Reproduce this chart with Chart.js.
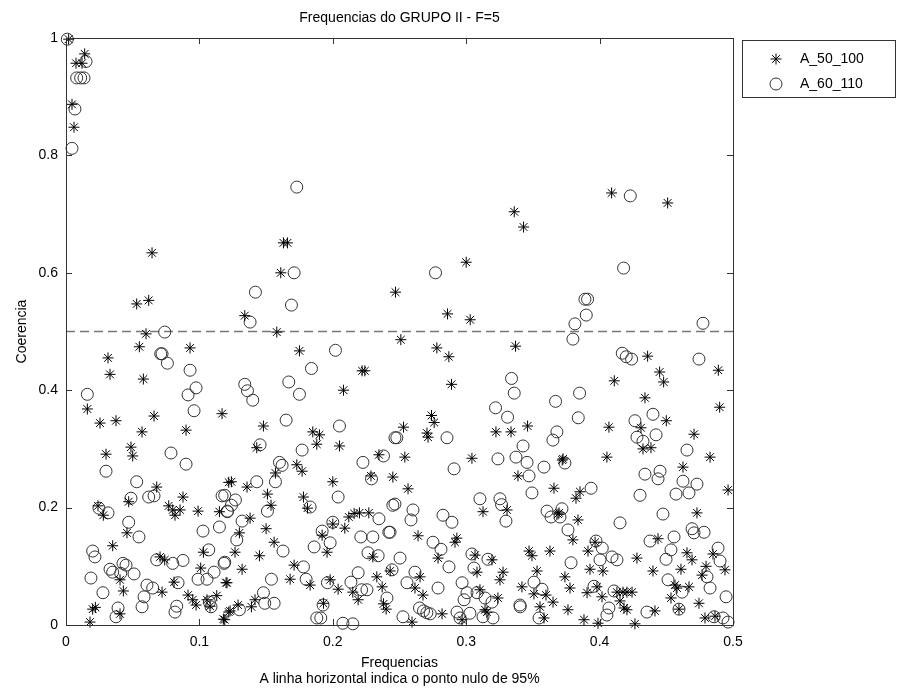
<!DOCTYPE html>
<html>
<head>
<meta charset="utf-8">
<script src="https://cdn.jsdelivr.net/npm/chart.js@4.4.0/dist/chart.umd.min.js"></script>
<style>
  body { margin: 0; background: #fff; }
  canvas { display: block; }
</style>
</head>
<body>
<canvas id="coer_chart" width="900" height="696"></canvas>
<script>
// Series A_50_100 (frequency, coherence)
const freqA50 = [
  0.002, 0.014, 0.0075, 0.012, 0.0045, 0.006,
  0.0645, 0.053, 0.062, 0.06, 0.055, 0.093, 0.0315, 0.033, 0.058, 0.016, 0.117, 0.0255, 0.0375, 0.066,
  0.163, 0.166, 0.161, 0.134, 0.158, 0.175, 0.222, 0.224, 0.208, 0.148, 0.247,
  0.336, 0.343, 0.409, 0.451,
  0.3, 0.286, 0.303, 0.251, 0.278, 0.287, 0.337, 0.289, 0.274, 0.276, 0.253, 0.346,
  0.436, 0.489, 0.445, 0.448, 0.411, 0.434, 0.49, 0.45, 0.407, 0.431,
  0.057, 0.09, 0.03, 0.0487, 0.05, 0.068, 0.0877, 0.047, 0.024, 0.028, 0.077, 0.08, 0.0817, 0.0855, 0.099,
  0.115, 0.122, 0.0457, 0.035, 0.0705, 0.074, 0.103, 0.101, 0.0405, 0.043, 0.081, 0.12, 0.072, 0.0915,
  0.095, 0.0975, 0.1057, 0.113, 0.108, 0.123, 0.02, 0.022, 0.0405, 0.018, 0.118,
  0.185, 0.19, 0.188, 0.205, 0.143, 0.173, 0.177, 0.157, 0.2346, 0.2286, 0.245, 0.124, 0.1357, 0.2,
  0.151, 0.178, 0.1537, 0.181, 0.138, 0.13, 0.15, 0.156, 0.1267, 0.145, 0.132, 0.2, 0.192, 0.209,
  0.212, 0.216, 0.22, 0.227, 0.1957, 0.23, 0.243, 0.171, 0.168, 0.183, 0.198, 0.204, 0.215, 0.219,
  0.233, 0.237, 0.1207, 0.1417, 0.139, 0.129, 0.122, 0.193, 0.238, 0.24, 0.119,
  0.2706, 0.2714, 0.3223, 0.3336, 0.254, 0.3043, 0.3388, 0.2564, 0.3658, 0.372, 0.3126, 0.3306, 0.3688,
  0.2639, 0.293, 0.2916, 0.2789, 0.3066, 0.3193, 0.3081, 0.3276, 0.3253, 0.2654, 0.2616, 0.2676, 0.3103,
  0.3238, 0.3471, 0.3493, 0.3628, 0.3531, 0.3418, 0.3508, 0.3598, 0.3651, 0.3553, 0.3141, 0.3155,
  0.2819, 0.2594, 0.2969, 0.3583,
  0.4708, 0.4828, 0.4325, 0.4385, 0.4055, 0.3726, 0.4625, 0.3853, 0.3823, 0.4963, 0.3696, 0.473, 0.3838,
  0.38, 0.3966, 0.3913, 0.4438, 0.4655, 0.4693, 0.485, 0.428, 0.3928, 0.4025, 0.44, 0.461, 0.4798, 0.494,
  0.4768, 0.374, 0.3778, 0.398, 0.3906, 0.4018, 0.413, 0.4175, 0.4205, 0.4243, 0.4153, 0.4565, 0.458,
  0.467, 0.4535, 0.4183, 0.4205, 0.4415, 0.4595, 0.4745, 0.3763, 0.3883, 0.3988, 0.4265, 0.479, 0.4865
];
const cohA50 = [
  0.998, 0.973, 0.957, 0.957, 0.887, 0.848,
  0.634, 0.547, 0.553, 0.496, 0.474, 0.472, 0.455, 0.427, 0.419, 0.368, 0.36, 0.344, 0.348, 0.356,
  0.651, 0.651, 0.6, 0.527, 0.499, 0.467, 0.433, 0.433, 0.4, 0.339, 0.567,
  0.704, 0.678, 0.736, 0.719,
  0.618, 0.53, 0.52, 0.486, 0.472, 0.457, 0.475, 0.41, 0.357, 0.345, 0.337, 0.339,
  0.458, 0.434, 0.431, 0.414, 0.416, 0.387, 0.371, 0.348, 0.337, 0.336,
  0.329, 0.332, 0.291, 0.303, 0.288, 0.235, 0.218, 0.21, 0.203, 0.187, 0.203, 0.196, 0.187, 0.196, 0.194,
  0.193, 0.243, 0.157, 0.135, 0.116, 0.111, 0.124, 0.097, 0.077, 0.058, 0.073, 0.072, 0.056, 0.051,
  0.043, 0.034, 0.043, 0.05, 0.032, 0.024, 0.027, 0.03, 0.019, 0.005, 0.01,
  0.329, 0.324, 0.308, 0.305, 0.302, 0.273, 0.262, 0.259, 0.29, 0.254, 0.252, 0.244, 0.235, 0.244,
  0.223, 0.218, 0.204, 0.199, 0.182, 0.157, 0.164, 0.141, 0.124, 0.118, 0.095, 0.172, 0.153, 0.165,
  0.184, 0.19, 0.191, 0.191, 0.124, 0.116, 0.092, 0.102, 0.078, 0.068, 0.077, 0.061, 0.056, 0.043,
  0.082, 0.065, 0.072, 0.043, 0.031, 0.034, 0.022, 0.037, 0.036, 0.027, 0.009,
  0.327, 0.32, 0.329, 0.329, 0.286, 0.284, 0.254, 0.232, 0.233, 0.281, 0.193, 0.196, 0.189,
  0.152, 0.148, 0.141, 0.114, 0.119, 0.111, 0.09, 0.09, 0.077, 0.082, 0.063, 0.051, 0.06,
  0.046, 0.126, 0.118, 0.126, 0.092, 0.065, 0.053, 0.051, 0.039, 0.031, 0.026, 0.022,
  0.019, 0.005, 0.009, 0.012,
  0.325, 0.286, 0.3, 0.302, 0.286, 0.283, 0.269, 0.227, 0.216, 0.23, 0.191, 0.191, 0.179,
  0.145, 0.141, 0.126, 0.147, 0.123, 0.111, 0.121, 0.114, 0.095, 0.092, 0.092, 0.095, 0.1, 0.094,
  0.085, 0.082, 0.063, 0.065, 0.055, 0.048, 0.056, 0.056, 0.056, 0.056, 0.041, 0.068, 0.063,
  0.065, 0.046, 0.029, 0.026, 0.024, 0.027, 0.037, 0.026, 0.009, 0.003, 0.002, 0.012, 0.015
];

// Series A_60_110 (frequency, coherence)
const freqA60 = [
  0.001, 0.015, 0.008, 0.011, 0.0135, 0.0067, 0.0045,
  0.173, 0.423,
  0.074, 0.071, 0.072, 0.076, 0.093, 0.0915, 0.0975, 0.016, 0.096,
  0.171, 0.142, 0.169, 0.138, 0.202, 0.184, 0.167, 0.175, 0.134, 0.136, 0.14, 0.165, 0.205,
  0.277, 0.334, 0.336, 0.367, 0.322, 0.331,
  0.418, 0.389, 0.391, 0.39, 0.3815, 0.38, 0.4775, 0.417, 0.42, 0.424, 0.4745, 0.385, 0.44, 0.4265, 0.384,
  0.0787, 0.09, 0.03, 0.053, 0.0487, 0.062, 0.066, 0.117, 0.0247, 0.0315, 0.121, 0.047, 0.1027, 0.115,
  0.0547, 0.02, 0.0217, 0.068, 0.08, 0.0877, 0.107, 0.0427, 0.045, 0.033, 0.035, 0.041, 0.051, 0.0187,
  0.0607, 0.065, 0.084, 0.099, 0.1057, 0.111, 0.1185, 0.0277, 0.0585, 0.057, 0.083, 0.0817, 0.039,
  0.0375, 0.1087, 0.1075,
  0.2466, 0.1455, 0.177, 0.16, 0.162, 0.2226, 0.238, 0.229, 0.143, 0.157, 0.204, 0.245, 0.119, 0.127,
  0.124, 0.121, 0.183, 0.151, 0.132, 0.2, 0.2346, 0.192, 0.128, 0.221, 0.23, 0.242, 0.198, 0.186,
  0.1627, 0.2264, 0.234, 0.119, 0.178, 0.219, 0.154, 0.18, 0.196, 0.2136, 0.2256, 0.2216, 0.148,
  0.149, 0.156, 0.13, 0.2406, 0.1927, 0.188, 0.191, 0.2076, 0.215,
  0.248, 0.2856, 0.368, 0.365, 0.3426, 0.3238, 0.3373, 0.3456, 0.3583, 0.2909, 0.3471, 0.3493, 0.2466,
  0.3103, 0.3253, 0.3265, 0.3298, 0.2601, 0.2586, 0.2826, 0.2893, 0.3606, 0.3636, 0.2429, 0.2751,
  0.2811, 0.2504, 0.2444, 0.2871, 0.3043, 0.3058, 0.3163, 0.2616, 0.2556, 0.2789, 0.2969, 0.3006,
  0.2984, 0.3081, 0.3141, 0.3193, 0.265, 0.268, 0.2705, 0.273, 0.2526, 0.2931, 0.2954, 0.3028, 0.3126,
  0.3201, 0.3403, 0.3405, 0.3508, 0.3568, 0.3546,
  0.428, 0.4325, 0.4423, 0.4655, 0.374, 0.434, 0.4453, 0.4438, 0.4625, 0.473, 0.3936, 0.4303, 0.4573,
  0.467, 0.3718, 0.3703, 0.4475, 0.4153, 0.3763, 0.4693, 0.4708, 0.4783, 0.4558, 0.4378, 0.3973, 0.402,
  0.4535, 0.4888, 0.4093, 0.413, 0.4003, 0.4498, 0.4903, 0.3786, 0.4805, 0.4513, 0.4618, 0.4828, 0.3958,
  0.4108, 0.4948, 0.407, 0.4055, 0.4355, 0.4595, 0.4858, 0.4925, 0.4963
];
const cohA60 = [
  0.998, 0.96, 0.932, 0.932, 0.932, 0.879, 0.812,
  0.746, 0.731,
  0.499, 0.462, 0.462, 0.446, 0.434, 0.392, 0.404, 0.393, 0.365,
  0.6, 0.567, 0.545, 0.516, 0.468, 0.437, 0.414, 0.393, 0.41, 0.399, 0.383, 0.349, 0.339,
  0.6, 0.42, 0.395, 0.381, 0.37, 0.354,
  0.608, 0.555, 0.555, 0.528, 0.513, 0.487, 0.514, 0.463, 0.457, 0.453, 0.453, 0.395, 0.359, 0.348, 0.353,
  0.293, 0.274, 0.262, 0.244, 0.216, 0.218, 0.22, 0.22, 0.199, 0.191, 0.194, 0.175, 0.16, 0.167,
  0.15, 0.126, 0.116, 0.111, 0.105, 0.11, 0.128, 0.105, 0.102, 0.095, 0.09, 0.088, 0.087, 0.08,
  0.068, 0.063, 0.072, 0.078, 0.078, 0.09, 0.105, 0.055, 0.048, 0.031, 0.032, 0.022, 0.029,
  0.014, 0.031, 0.039,
  0.319, 0.307, 0.298, 0.277, 0.272, 0.277, 0.288, 0.249, 0.244, 0.244, 0.218, 0.204, 0.221, 0.213,
  0.204, 0.193, 0.201, 0.194, 0.177, 0.175, 0.181, 0.16, 0.145, 0.15, 0.15, 0.158, 0.14, 0.133,
  0.126, 0.123, 0.118, 0.107, 0.099, 0.089, 0.078, 0.078, 0.072, 0.073, 0.06, 0.06, 0.055,
  0.037, 0.037, 0.026, 0.046, 0.034, 0.012, 0.012, 0.003, 0.002,
  0.319, 0.319, 0.329, 0.315, 0.305, 0.283, 0.286, 0.277, 0.269, 0.266, 0.254, 0.225, 0.206,
  0.215, 0.215, 0.205, 0.177, 0.196, 0.179, 0.187, 0.175, 0.194, 0.184, 0.158, 0.141,
  0.129, 0.114, 0.094, 0.099, 0.121, 0.097, 0.112, 0.09, 0.072, 0.063, 0.072, 0.055,
  0.043, 0.055, 0.046, 0.039, 0.029, 0.024, 0.021, 0.019, 0.014, 0.022, 0.012, 0.02, 0.014,
  0.012, 0.034, 0.031, 0.073, 0.061, 0.012,
  0.32, 0.313, 0.324, 0.298, 0.276, 0.257, 0.262, 0.249, 0.245, 0.24, 0.233, 0.221, 0.223,
  0.225, 0.198, 0.184, 0.189, 0.174, 0.162, 0.164, 0.157, 0.158, 0.15, 0.143, 0.143, 0.131,
  0.128, 0.131, 0.116, 0.111, 0.111, 0.112, 0.109, 0.106, 0.082, 0.077, 0.056, 0.063, 0.066,
  0.058, 0.048, 0.029, 0.017, 0.022, 0.027, 0.014, 0.012, 0.005
];

// 95% null level
const nullLevel = 0.5;
const xTicks = [0, 0.1, 0.2, 0.3, 0.4, 0.5];
const yTicks = [0, 0.2, 0.4, 0.6, 0.8, 1];
const seriesNames = ['A_50_100', 'A_60_110'];

const toPoints = (xs, ys) => xs.map((x, i) => ({ x: x, y: ys[i] }));

// box around the axes, inward ticks and the legend box
const matlabAxes = {
  id: 'matlabAxes',
  afterDraw(chart) {
    const ctx = chart.ctx;
    const a = chart.chartArea;
    const sx = chart.scales.x, sy = chart.scales.y;
    ctx.save();
    ctx.strokeStyle = '#333';
    ctx.lineWidth = 1;
    ctx.strokeRect(Math.round(a.left) + 0.5, Math.round(a.top) + 0.5,
      Math.round(a.right - a.left), Math.round(a.bottom - a.top));
    ctx.beginPath();
    xTicks.forEach(v => {
      const px = Math.round(sx.getPixelForValue(v)) + 0.5;
      ctx.moveTo(px, a.bottom); ctx.lineTo(px, a.bottom - 6);
      ctx.moveTo(px, a.top); ctx.lineTo(px, a.top + 6);
    });
    yTicks.forEach(v => {
      const py = Math.round(sy.getPixelForValue(v)) + 0.5;
      ctx.moveTo(a.left, py); ctx.lineTo(a.left + 6, py);
      ctx.moveTo(a.right, py); ctx.lineTo(a.right - 6, py);
    });
    ctx.stroke();

    // legend
    const lx = 742, ly = 40, lw = 153, lh = 57;
    ctx.fillStyle = '#fff';
    ctx.fillRect(lx, ly, lw, lh);
    ctx.strokeStyle = '#333';
    ctx.strokeRect(lx + 0.5, ly + 0.5, lw, lh);
    ctx.font = '14px "Liberation Sans", Arial, sans-serif';
    ctx.textBaseline = 'middle';
    ctx.fillStyle = '#000';
    const rows = [ly + 19, ly + 44];
    // star marker
    ctx.strokeStyle = '#000';
    ctx.beginPath();
    const r = 5.5, cx = 776;
    for (let k = 0; k < 4; k++) {
      const ang = k * Math.PI / 4;
      ctx.moveTo(cx - r * Math.cos(ang), rows[0] - r * Math.sin(ang));
      ctx.lineTo(cx + r * Math.cos(ang), rows[0] + r * Math.sin(ang));
    }
    ctx.stroke();
    ctx.strokeStyle = '#333';
    ctx.beginPath();
    ctx.arc(cx, rows[1], 6, 0, Math.PI * 2);
    ctx.stroke();
    ctx.fillText(seriesNames[0], 800, rows[0]);
    ctx.fillText(seriesNames[1], 800, rows[1]);
    ctx.restore();
  }
};

const font = { family: '"Liberation Sans", Arial, sans-serif', size: 14 };

new Chart(document.getElementById('coer_chart'), {
  type: 'scatter',
  data: {
    datasets: [
      {
        label: seriesNames[0],
        data: toPoints(freqA50, cohA50),
        pointStyle: 'star',
        pointRadius: 5.5,
        borderColor: '#000',
        backgroundColor: '#000',
        borderWidth: 1,
        clip: 8
      },
      {
        label: seriesNames[1],
        data: toPoints(freqA60, cohA60),
        pointStyle: 'circle',
        pointRadius: 6,
        borderColor: '#333',
        backgroundColor: 'rgba(0,0,0,0)',
        borderWidth: 1,
        clip: 8
      },
      {
        label: 'nulo',
        type: 'line',
        data: [{ x: xTicks[0], y: nullLevel }, { x: xTicks[xTicks.length - 1], y: nullLevel }],
        borderColor: '#777',
        borderWidth: 1.5,
        borderDash: [9, 5],
        pointRadius: 0,
        fill: false
      }
    ]
  },
  options: {
    responsive: false,
    animation: false,
    events: [],
    layout: { padding: { left: 0, right: 167, top: 0, bottom: 0 } },
    plugins: {
      legend: { display: false },
      tooltip: { enabled: false },
      title: {
        display: true,
        fullSize: false,
        text: 'Frequencias do GRUPO II - F=5',
        color: '#000',
        font: { family: font.family, size: 14, weight: 'normal' },
        padding: { top: 10, bottom: 11.2 }
      }
    },
    scales: {
      x: {
        type: 'linear',
        min: 0,
        max: 0.5,
        afterBuildTicks: s => { s.ticks = xTicks.map(v => ({ value: v })); },
        afterFit: s => { s.height = 71; },
        grid: { display: false },
        border: { display: false },
        ticks: {
          color: '#000',
          font: font,
          padding: 1,
          maxRotation: 0,
          callback: v => String(+v.toFixed(1))
        },
        title: {
          display: true,
          text: ['Frequencias', 'A linha horizontal indica o ponto nulo de 95%'],
          color: '#000',
          font: font,
          padding: { top: 0, bottom: 8 }
        }
      },
      y: {
        type: 'linear',
        min: 0,
        max: 1,
        afterBuildTicks: s => { s.ticks = yTicks.map(v => ({ value: v })); },
        afterFit: s => { s.width = 66; },
        grid: { display: false },
        border: { display: false },
        ticks: {
          color: '#000',
          font: font,
          padding: 0,
          callback: v => String(+v.toFixed(1))
        },
        title: {
          display: true,
          text: 'Coerencia',
          color: '#000',
          font: font,
          padding: { top: 14, bottom: 0 }
        }
      }
    }
  },
  plugins: [matlabAxes]
});
</script>
</body>
</html>
